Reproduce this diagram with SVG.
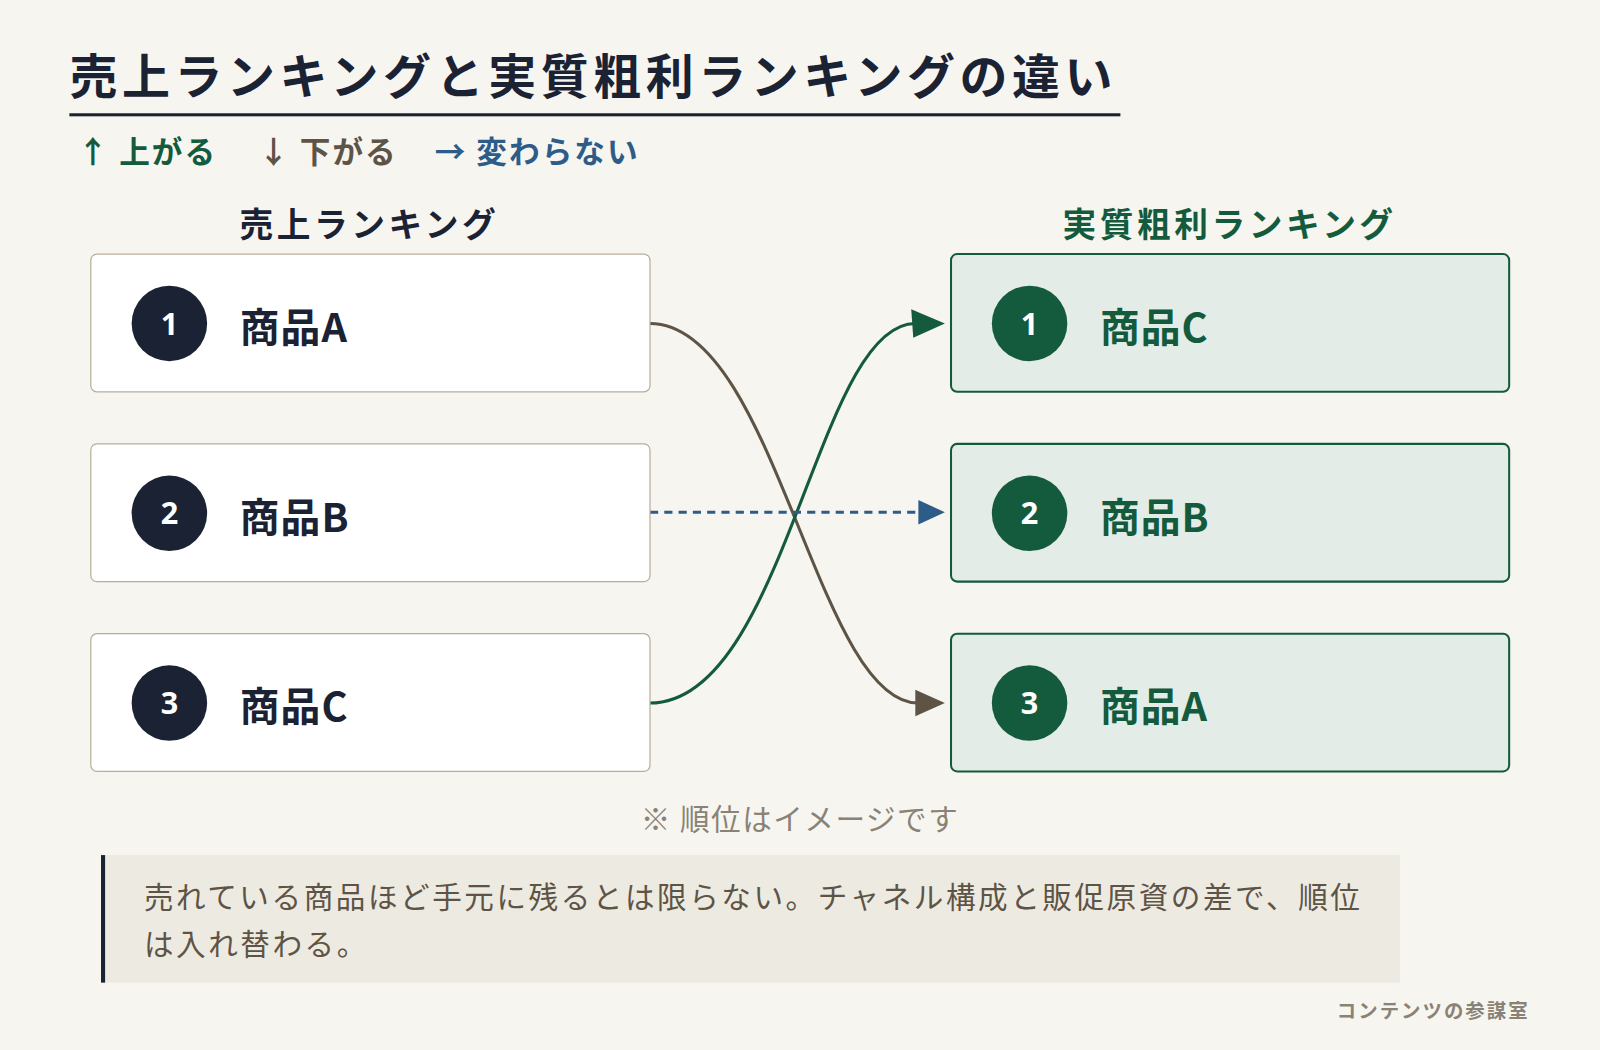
<svg xmlns="http://www.w3.org/2000/svg" width="1600" height="1050" viewBox="0 0 1600 1050">
<style>
text{font-family:"Noto Sans CJK JP","Noto Sans",sans-serif;font-weight:700}
text.w{font-weight:400}
.l{fill:#fff;stroke:#b9ad9a;stroke-width:1.2}
.r{fill:#e3ece6;stroke:#145a3c;stroke-width:2}
.lt{fill:#1a2233;font-size:39px;letter-spacing:1px}
.rt{fill:#145a3c;font-size:39px;letter-spacing:1px}
.n{fill:#fff;font-size:30px;font-family:"Noto Sans",sans-serif;text-anchor:middle}
</style>
<rect width="1600" height="1050" fill="#f6f5f0"/>
<g transform="scale(1.0204)">
<g id="header">
<text x="68" y="92" font-size="47" fill="#1a2233" letter-spacing="4.5">売上ランキングと実質粗利ランキングの違い</text>
<rect x="68" y="111" width="1030" height="3" fill="#1a2233"/>
<text x="76" y="160" font-size="30" fill="#145a3c" letter-spacing="2">↑ 上がる</text>
<text x="253" y="160" font-size="30" fill="#5e5446" letter-spacing="2">↓ 下がる</text>
<text x="426" y="160" font-size="30" fill="#2e5c88" letter-spacing="2">→ 変わらない</text>
<text x="362" y="232" font-size="33" fill="#1a2233" text-anchor="middle" letter-spacing="3.5">売上ランキング</text>
<text x="1205" y="232" font-size="33" fill="#145a3c" text-anchor="middle" letter-spacing="3.5">実質粗利ランキング</text>
</g>
<g id="connectors" fill="none" stroke-width="3">
<path d="M637,317 C760,317 800,689 900,689" stroke="#5e5446"/>
<polygon points="897,676 926,689 897,702" fill="#5e5446" stroke="none"/>
<path d="M637,689 C770,689 800,317 897,317" stroke="#145a3c"/>
<polygon points="893,303 926,317 895,331" fill="#145a3c" stroke="none"/>
<path d="M637,502 H900" stroke="#2e5c88" stroke-dasharray="8 6"/>
<polygon points="900,490 926,502 900,514" fill="#2e5c88" stroke="none"/>
</g>
<g id="left1"><rect class="l" x="89" y="249" width="548" height="135" rx="6"/><circle cx="166" cy="317" r="37" fill="#1a2233"/><text class="n" x="166" y="328">1</text><text class="lt" x="235" y="335">商品A</text></g>
<g id="left2"><rect class="l" x="89" y="435" width="548" height="135" rx="6"/><circle cx="166" cy="503" r="37" fill="#1a2233"/><text class="n" x="166" y="514">2</text><text class="lt" x="235" y="521">商品B</text></g>
<g id="left3"><rect class="l" x="89" y="621" width="548" height="135" rx="6"/><circle cx="166" cy="689" r="37" fill="#1a2233"/><text class="n" x="166" y="700">3</text><text class="lt" x="235" y="707">商品C</text></g>
<g id="right1"><rect class="r" x="932" y="249" width="547" height="135" rx="6"/><circle cx="1009" cy="317" r="37" fill="#145a3c"/><text class="n" x="1009" y="328">1</text><text class="rt" x="1078" y="335">商品C</text></g>
<g id="right2"><rect class="r" x="932" y="435" width="547" height="135" rx="6"/><circle cx="1009" cy="503" r="37" fill="#145a3c"/><text class="n" x="1009" y="514">2</text><text class="rt" x="1078" y="521">商品B</text></g>
<g id="right3"><rect class="r" x="932" y="621" width="547" height="135" rx="6"/><circle cx="1009" cy="689" r="37" fill="#145a3c"/><text class="n" x="1009" y="700">3</text><text class="rt" x="1078" y="707">商品A</text></g>
<g id="notes">
<text class="w" x="784" y="813" font-size="29" fill="#8a8275" text-anchor="middle" letter-spacing="1.5">※ 順位はイメージです</text>
<rect x="99" y="838" width="1273" height="125" fill="#edeae2"/>
<rect x="99" y="838" width="4" height="125" fill="#1a2233"/>
<text class="w" x="141" y="890" font-size="29" fill="#5e5446" letter-spacing="2.5">売れている商品ほど手元に残るとは限らない。チャネル構成と販促原資の差で、順位</text>
<text class="w" x="141" y="936" font-size="29" fill="#5e5446" letter-spacing="2.5">は入れ替わる。</text>
<text x="1499" y="998" font-size="19" fill="#8a8275" text-anchor="end" letter-spacing="2">コンテンツの参謀室</text>
</g>
</g>
</svg>
